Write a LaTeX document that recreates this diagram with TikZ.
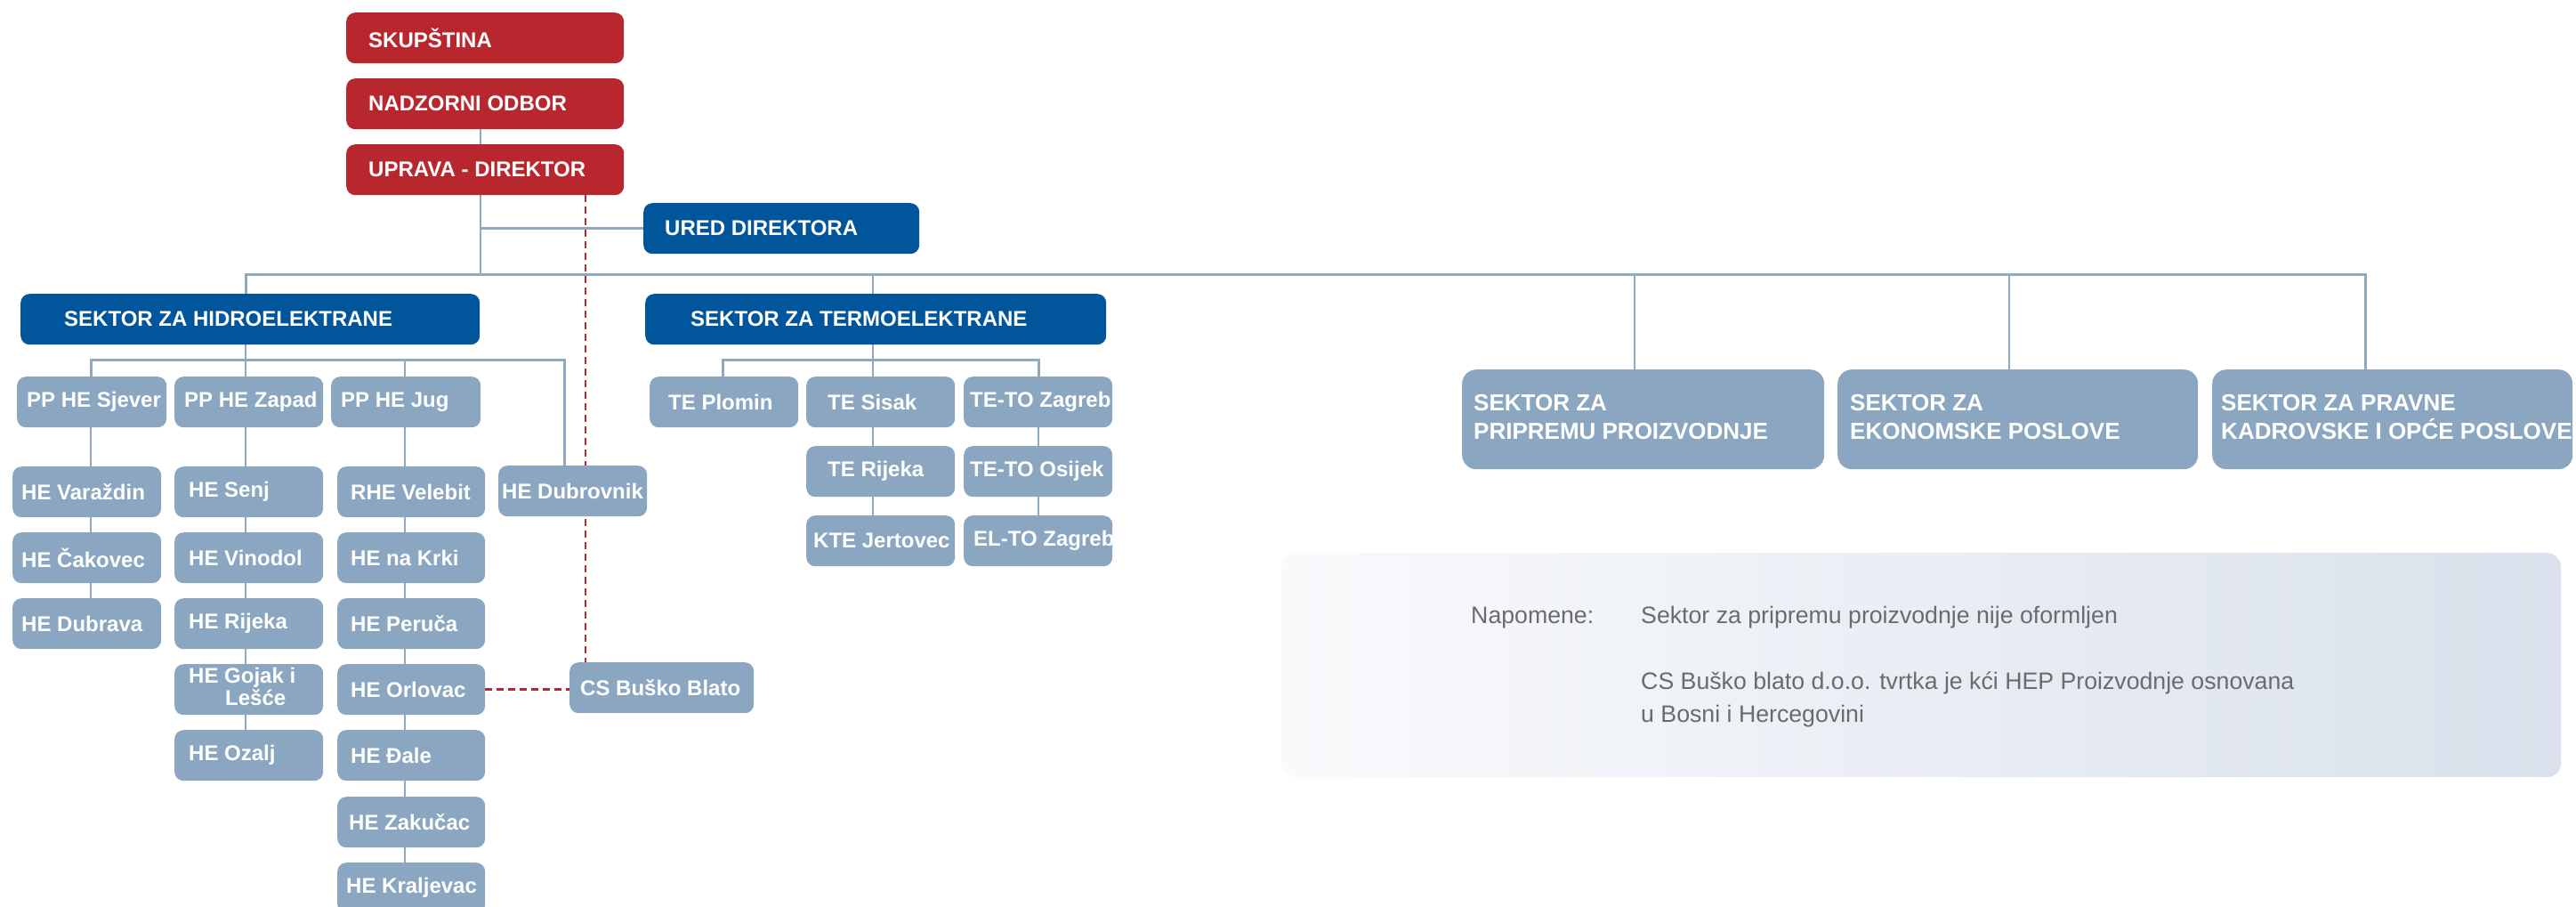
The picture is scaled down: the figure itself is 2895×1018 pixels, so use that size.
\documentclass[tikz,border=0pt]{standalone}
\usepackage{fontspec}
\setmainfont{Liberation Sans}
\usetikzlibrary{backgrounds}
\definecolor{hepred}{HTML}{B8272E}
\definecolor{hepblue}{HTML}{00559B}
\definecolor{hepgrey}{HTML}{8BA6C1}
\definecolor{hepline}{HTML}{90A9C3}
\definecolor{noteText}{HTML}{6A6B6E}
\definecolor{panelL}{HTML}{F9FAFC}
\definecolor{panelR}{HTML}{DAE1EC}
\newcommand\boxnode[7]{%
  \pgfmathsetlengthmacro\bxtw{#5-2*#6}%
  \node[#1, minimum width=#5pt, inner xsep=#6pt] (#2) at (#3,#4) {\makebox[\bxtw][l]{#7}};%
}
\tikzset{
  boxbase/.style={anchor=north west, rounded corners=10pt, inner ysep=0pt, text=white,
    font=\fontsize{24pt}{25pt}\selectfont\bfseries, minimum height=57pt},
  redbox/.style={boxbase, fill=hepred},
  bluebox/.style={boxbase, fill=hepblue},
  greybox/.style={boxbase, fill=hepgrey},
  bigbox/.style={greybox, minimum height=112pt, rounded corners=16pt,
    font=\fontsize{26pt}{32pt}\selectfont\bfseries},
  conn/.style={draw=hepline, line width=2.4pt},
  busconn/.style={draw=hepline, line width=3pt},
  dashconn/.style={draw=hepred, line width=2.6pt, dash pattern=on 8pt off 5pt},
  notetext/.style={anchor=base west, inner sep=0pt, text=noteText,
    font=\fontsize{26.7pt}{37pt}\selectfont},
}
\begin{document}
\begin{tikzpicture}[x=1pt,y=-1pt]
\useasboundingbox (0,0) rectangle (2895,1018);
\clip (0,0) rectangle (2895,1018);

% notes panel
\node[anchor=north west, minimum width=1438pt, minimum height=252pt, rounded corners=16pt,
  left color=panelL, right color=panelR, inner sep=0pt] (notes) at (1440,621) {};
\node[notetext] (nlab) at (1653,700) {Napomene:};
\node[notetext] (n1) at (1844,700) {Sektor za pripremu proizvodnje nije oformljen};
\node[notetext] (n2) at (1844,774) {CS Buško blato d.o.o. tvrtka je kći HEP Proizvodnje osnovana};
\node[notetext] (n3) at (1844,811) {u Bosni i Hercegovini};

% top management
\boxnode{redbox}{skup}{389}{14}{312}{25}{SKUPŠTINA}
\boxnode{redbox}{nadz}{389}{88}{312}{25}{NADZORNI ODBOR}
\boxnode{redbox}{uprava}{389}{162}{312}{25}{UPRAVA - DIREKTOR}
\boxnode{bluebox}{ured}{723}{228}{310}{24}{URED DIREKTORA}
\boxnode{bluebox}{hydro}{23}{330}{516}{49}{SEKTOR ZA HIDROELEKTRANE}
\boxnode{bluebox}{termo}{725}{330}{518}{51}{SEKTOR ZA TERMOELEKTRANE}

% right sectors
\boxnode{bigbox}{prip}{1643}{415}{407}{13}{\begin{tabular}{@{}l@{}}SEKTOR ZA\\PRIPREMU PROIZVODNJE\end{tabular}}
\boxnode{bigbox}{ekon}{2065}{415}{405}{14}{\begin{tabular}{@{}l@{}}SEKTOR ZA\\EKONOMSKE POSLOVE\end{tabular}}
\boxnode{bigbox}{prav}{2486}{415}{405}{10}{\begin{tabular}{@{}l@{}}SEKTOR ZA PRAVNE\\KADROVSKE I OPĆE POSLOVE\end{tabular}}

% hydro
\boxnode{greybox}{sjever}{19}{423}{168}{11}{PP HE Sjever}
\boxnode{greybox}{zapad}{196}{423}{167}{11}{PP HE Zapad}
\boxnode{greybox}{jug}{372}{423}{168}{11}{PP HE Jug}

\boxnode{greybox}{varazdin}{14}{524}{167}{10}{HE Varaždin}
\boxnode{greybox}{cakovec}{14}{598}{167}{10}{HE Čakovec}
\boxnode{greybox}{dubrava}{14}{672}{167}{10}{HE Dubrava}

\boxnode{greybox}{senj}{196}{524}{167}{16}{HE Senj}
\boxnode{greybox}{vinodol}{196}{598}{167}{16}{HE Vinodol}
\boxnode{greybox}{rijeka}{196}{672}{167}{16}{HE Rijeka}
\boxnode{greybox}{gojak}{196}{746}{167}{16}{\begin{tabular}{@{}l@{}}HE Gojak i\\\hspace*{41pt}Lešće\end{tabular}}
\boxnode{greybox}{ozalj}{196}{820}{167}{16}{HE Ozalj}

\boxnode{greybox}{velebit}{379}{524}{166}{15}{RHE Velebit}
\boxnode{greybox}{krki}{379}{598}{166}{15}{HE na Krki}
\boxnode{greybox}{peruca}{379}{672}{166}{15}{HE Peruča}
\boxnode{greybox}{orlovac}{379}{746}{166}{15}{HE Orlovac}
\boxnode{greybox}{dale}{379}{820}{166}{15}{HE Đale}
\boxnode{greybox}{zakucac}{379}{895}{166}{13}{HE Zakučac}
\boxnode{greybox}{kraljevac}{379}{969}{166}{10}{HE Kraljevac}

\boxnode{greybox}{dubrovnik}{560}{523}{167}{4}{HE Dubrovnik}
\boxnode{greybox}{cs}{640}{744}{207}{12}{CS Buško Blato}

% termo
\boxnode{greybox}{plomin}{730}{423}{167}{21}{TE Plomin}
\boxnode{greybox}{sisak}{906}{423}{167}{24}{TE Sisak}
\boxnode{greybox}{tetozg}{1083}{423}{167}{7}{TE-TO Zagreb}
\boxnode{greybox}{terijeka}{906}{501}{167}{24}{TE Rijeka}
\boxnode{greybox}{tetoos}{1083}{501}{167}{7}{TE-TO Osijek}
\boxnode{greybox}{kte}{906}{579}{167}{8}{KTE Jertovec}
\boxnode{greybox}{elto}{1083}{579}{167}{11}{EL-TO Zagreb}

% connectors
\coordinate (tx) at (540,308);
\coordinate (busL) at (276,308);
\coordinate (busR) at (2658,308);
\coordinate (dT) at (981,308);
\coordinate (dP) at (1837,308);
\coordinate (dE) at (2258,308);
\coordinate (hb) at (276,404);
\coordinate (cA) at (102,404);
\coordinate (cC) at (455,404);
\coordinate (hbR) at (634,404);
\coordinate (tb) at (981,404);
\coordinate (tbL) at (812,404);
\coordinate (tbR) at (1167,404);
\coordinate (rx) at (658,0);

\begin{pgfonlayer}{background}
\draw[conn] (nadz.south -| tx) -- (uprava.north -| tx);
\draw[conn] (uprava.south -| tx) -- (tx);
\draw[busconn] (tx |- ured.west) -- (ured.west);
\draw[busconn] (hydro.north -| busL) -- (busL) -- (busR) -- (prav.north -| busR);
\draw[conn] (dT) -- (termo.north -| dT);
\draw[conn] (dP) -- (prip.north -| dP);
\draw[conn] (dE) -- (ekon.north -| dE);
% hydro subtree
\draw[conn] (hydro.south -| hb) -- (hb);
\draw[busconn] (sjever.north -| cA) -- (cA) -- (hbR) -- (dubrovnik.north -| hbR);
\draw[conn] (hb) -- (zapad.north -| hb);
\draw[conn] (cC) -- (jug.north -| cC);
\foreach \a/\b in {sjever/varazdin, varazdin/cakovec, cakovec/dubrava}
  \draw[conn] (\a.south -| cA) -- (\b.north -| cA);
\foreach \a/\b in {zapad/senj, senj/vinodol, vinodol/rijeka, rijeka/gojak, gojak/ozalj}
  \draw[conn] (\a.south -| hb) -- (\b.north -| hb);
\foreach \a/\b in {jug/velebit, velebit/krki, krki/peruca, peruca/orlovac, orlovac/dale, dale/zakucac, zakucac/kraljevac}
  \draw[conn] (\a.south -| cC) -- (\b.north -| cC);
% termo subtree
\draw[conn] (termo.south -| tb) -- (tb);
\draw[busconn] (plomin.north -| tbL) -- (tbL) -- (tbR) -- (tetozg.north -| tbR);
\draw[conn] (tb) -- (sisak.north -| tb);
\foreach \a/\b in {sisak/terijeka, terijeka/kte}
  \draw[conn] (\a.south -| tb) -- (\b.north -| tb);
\foreach \a/\b in {tetozg/tetoos, tetoos/elto}
  \draw[conn] (\a.south -| tbR) -- (\b.north -| tbR);
% red dashed
\draw[dashconn] (uprava.south -| rx) -- (cs.north -| rx);
\draw[dashconn] (orlovac.east) -- (orlovac.east -| cs.west);
\end{pgfonlayer}
\end{tikzpicture}
\end{document}
